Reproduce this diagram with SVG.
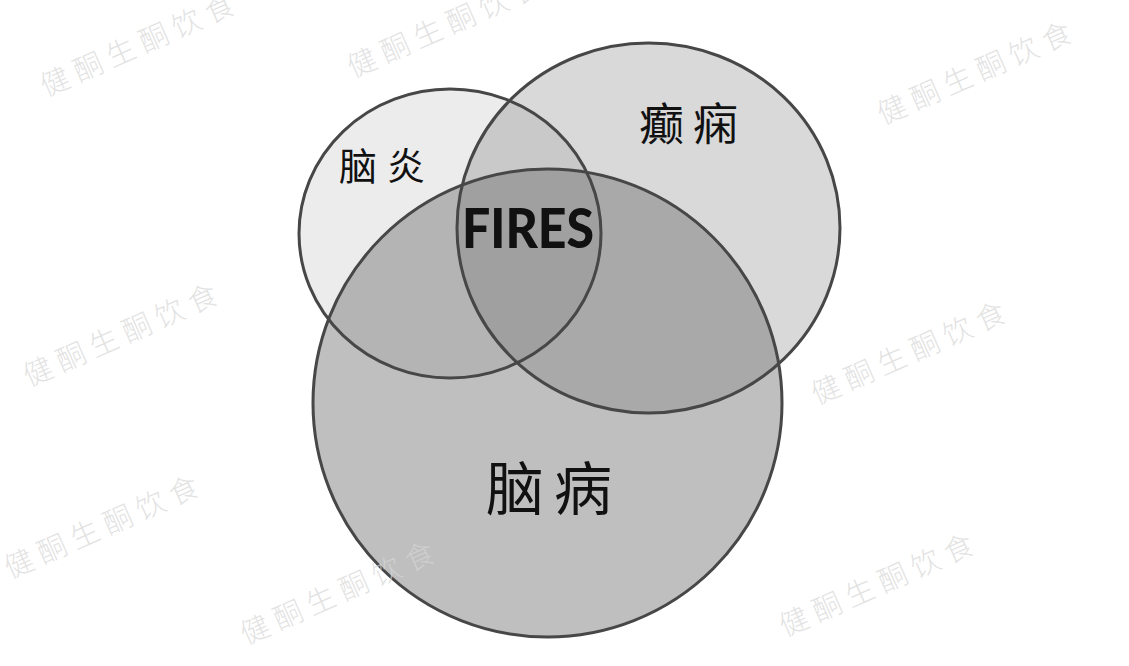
<svg xmlns="http://www.w3.org/2000/svg" width="1129" height="666" viewBox="0 0 1129 666">
<style>
.edge{fill:none;stroke:#474747;stroke-width:3}
.lbl{font-family:"Liberation Serif","Noto Sans CJK SC",serif;fill:#111}
.wm{font-family:"Noto Sans CJK SC",sans-serif;font-weight:300;font-size:29px;letter-spacing:7px;fill:#d6d6d6;fill-opacity:0.7}
</style>
<defs>
<clipPath id="cA"><ellipse cx="450" cy="233.5" rx="151" ry="144.5"/></clipPath>
<clipPath id="cB"><ellipse cx="648.5" cy="228" rx="191.5" ry="185"/></clipPath>
<clipPath id="cC"><ellipse cx="547.5" cy="403" rx="234.5" ry="234"/></clipPath>
</defs>
<rect width="1129" height="666" fill="#fff"/>
<g id="fills">
<ellipse cx="450" cy="233.5" rx="151" ry="144.5" fill="#ececec"/>
<ellipse cx="648.5" cy="228" rx="191.5" ry="185" fill="#d9d9d9"/>
<ellipse cx="547.5" cy="403" rx="234.5" ry="234" fill="#bfbfbf"/>
<g clip-path="url(#cA)"><ellipse cx="648.5" cy="228" rx="191.5" ry="185" fill="#c9c9c9"/></g>
<g clip-path="url(#cA)"><ellipse cx="547.5" cy="403" rx="234.5" ry="234" fill="#b4b4b4"/></g>
<g clip-path="url(#cB)"><ellipse cx="547.5" cy="403" rx="234.5" ry="234" fill="#a9a9a9"/></g>
<g clip-path="url(#cA)"><g clip-path="url(#cB)"><ellipse cx="547.5" cy="403" rx="234.5" ry="234" fill="#a0a0a0"/></g></g>
</g>
<g id="node-encephalitis">
<ellipse class="edge" cx="450" cy="233.5" rx="151" ry="144.5"/>
<text class="lbl" x="339" y="180" font-size="38" letter-spacing="10">脑炎</text>
</g>
<g id="node-epilepsy">
<ellipse class="edge" cx="648.5" cy="228" rx="191.5" ry="185"/>
<text class="lbl" x="639" y="141" font-size="45" letter-spacing="9">癫痫</text>
</g>
<g id="node-encephalopathy">
<ellipse class="edge" cx="547.5" cy="403" rx="234.5" ry="234"/>
<text class="lbl" x="486" y="510" font-size="58" letter-spacing="10">脑病</text>
</g>
<g id="node-fires">
<text x="462" y="248" font-family="Lato,'Open Sans',sans-serif" font-weight="900" font-size="55" textLength="132" lengthAdjust="spacingAndGlyphs" fill="#111">FIRES</text>
</g>
<g id="connectors"></g>
<g id="watermarks">
<text class="wm" transform="translate(46,97) rotate(-24)">健酮生酮饮食</text>
<text class="wm" transform="translate(353,78) rotate(-24)">健酮生酮饮食</text>
<text class="wm" transform="translate(883,125) rotate(-24)">健酮生酮饮食</text>
<text class="wm" transform="translate(29,387) rotate(-24)">健酮生酮饮食</text>
<text class="wm" transform="translate(817,405) rotate(-24)">健酮生酮饮食</text>
<text class="wm" transform="translate(10,579) rotate(-24)">健酮生酮饮食</text>
<text class="wm" transform="translate(246,645) rotate(-24)">健酮生酮饮食</text>
<text class="wm" transform="translate(785,637) rotate(-24)">健酮生酮饮食</text>
</g>
</svg>
